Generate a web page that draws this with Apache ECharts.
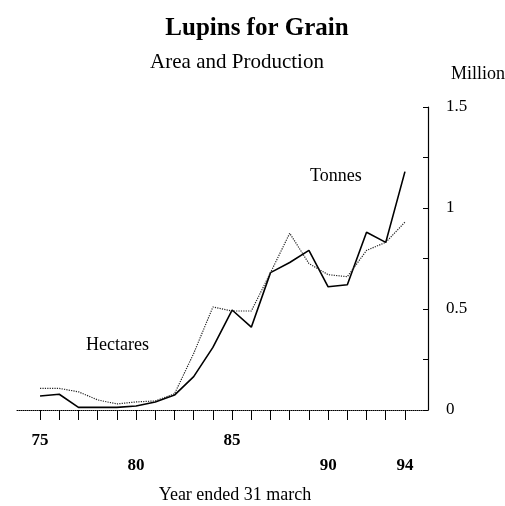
<!DOCTYPE html>
<html><head><meta charset="utf-8">
<script src="https://cdn.jsdelivr.net/npm/echarts@6/dist/echarts.min.js"></script>
<style>html,body{margin:0;padding:0;background:#fff}#c{width:505px;height:506px}</style>
</head><body><div id="c"></div>
<script>
const years = [75,76,77,78,79,80,81,82,83,84,85,86,87,88,89,90,91,92,93,94];
const tonnes = [0.069,0.078,0.013,0.013,0.013,0.02,0.04,0.074,0.165,0.31,0.495,0.41,0.68,0.73,0.79,0.61,0.62,0.88,0.83,1.18];
const hectares = [0.107,0.107,0.09,0.05,0.03,0.04,0.045,0.08,0.28,0.51,0.49,0.49,0.68,0.875,0.725,0.67,0.66,0.79,0.83,0.93];
const upperLabels = [75,85];
const lowerLabels = [80,90,94];
const yTickLabels = [0,0.5,1,1.5];

const F = '"Liberation Serif","DejaVu Serif",serif';
const chart = echarts.init(document.getElementById('c'));
chart.setOption({
  backgroundColor:'#fff',
  animation:false,
  title:[
    {text:'Lupins for Grain',left:252,top:11,textAlign:'center',textStyle:{fontFamily:F,fontSize:25,fontWeight:'bold',color:'#000'}},
    {text:'Area and Production',left:232,top:47,textAlign:'center',textStyle:{fontFamily:F,fontSize:21,fontWeight:'normal',color:'#000'}},
    {text:'Million',left:473,top:60,textAlign:'center',textStyle:{fontFamily:F,fontSize:18,fontWeight:'normal',color:'#000'}},
    {text:'Year ended 31 march',left:230,top:481,textAlign:'center',textStyle:{fontFamily:F,fontSize:18,fontWeight:'normal',color:'#000'}}
  ],
  graphic:[
    {type:'text',left:310,top:167,style:{text:'Tonnes',font:'18px '+F,fill:'#000'}},
    {type:'text',left:86,top:336,style:{text:'Hectares',font:'18px '+F,fill:'#000'}}
  ],
  grid:{left:17,right:77,top:107,bottom:96},
  xAxis:[
    {type:'value',min:73.8,max:95.2,
      axisLine:{show:true,lineStyle:{color:'#000',type:'dotted',width:1}},
      axisTick:{show:true,customValues:years,length:10,inside:false,lineStyle:{color:'#000',width:1}},
      axisLabel:{customValues:upperLabels,margin:22,fontFamily:F,fontSize:17,fontWeight:'bold',color:'#000'},
      splitLine:{show:false}},
    {type:'value',min:73.8,max:95.2,position:'bottom',
      axisLine:{show:false},axisTick:{show:false},
      axisLabel:{customValues:lowerLabels,margin:47,fontFamily:F,fontSize:17,fontWeight:'bold',color:'#000'},
      splitLine:{show:false}}
  ],
  yAxis:{type:'value',min:0,max:1.5,interval:0.25,position:'right',
    axisLine:{show:true,lineStyle:{color:'#000',width:1.2}},
    axisTick:{show:true,inside:true,length:5,lineStyle:{color:'#000'}},
    axisLabel:{customValues:yTickLabels,margin:18,fontFamily:F,fontSize:17,color:'#000'},
    splitLine:{show:false}},
  series:[
    {name:'Tonnes',type:'line',data:years.map((y,i)=>[y,tonnes[i]]),symbol:'none',
      lineStyle:{color:'#000',width:1.6,type:'solid'}},
    {name:'Hectares',type:'line',data:years.map((y,i)=>[y,hectares[i]]),symbol:'none',
      lineStyle:{color:'#222',width:1.2,type:'dotted'}}
  ]
});
</script></body></html>
